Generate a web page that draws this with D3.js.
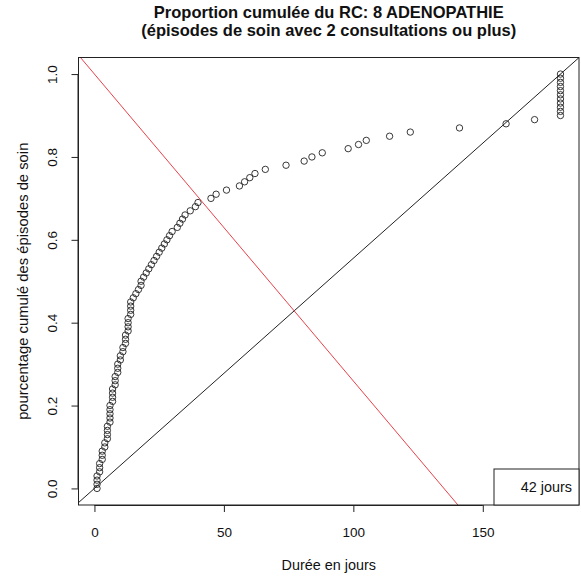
<!DOCTYPE html>
<html>
<head>
<meta charset="utf-8">
<script src="https://cdn.jsdelivr.net/npm/d3@7"></script>
<style>
  body { margin: 0; background: white; }
  svg text { font-family: 'Liberation Sans', Arial, sans-serif; fill: #111; }
</style>
</head>
<body>
<div id="chart_container"></div>
<script>

// durations (days), sorted, one per episode
var durees = [
  1, 1, 1, 1, 2, 2, 2, 3, 3, 3,
  4, 4, 5, 5, 5, 5, 6, 6, 6, 6,
  6, 7, 7, 7, 7, 8, 8, 8, 9, 9,
  9, 10, 10, 11, 11, 12, 12, 12, 13, 13,
  13, 13, 14, 14, 14, 14, 15, 16, 17, 18,
  18, 19, 20, 21, 22, 23, 24, 25, 26, 27,
  28, 29, 30, 32, 33, 34, 35, 37, 39, 40,
  45, 47, 51, 56, 58, 60, 62, 66, 74, 81,
  84, 88, 98, 102, 105, 114, 122, 141, 159, 170,
  180, 180, 180, 180, 180, 180, 180, 180, 180, 180,
  180
]
// cumulative proportion, one per episode
var proportions = [
  0.00, 0.01, 0.02, 0.03, 0.04, 0.05, 0.06, 0.07, 0.08, 0.09,
  0.10, 0.11, 0.12, 0.13, 0.14, 0.15, 0.16, 0.17, 0.18, 0.19,
  0.20, 0.21, 0.22, 0.23, 0.24, 0.25, 0.26, 0.27, 0.28, 0.29,
  0.30, 0.31, 0.32, 0.33, 0.34, 0.35, 0.36, 0.37, 0.38, 0.39,
  0.40, 0.41, 0.42, 0.43, 0.44, 0.45, 0.46, 0.47, 0.48, 0.49,
  0.50, 0.51, 0.52, 0.53, 0.54, 0.55, 0.56, 0.57, 0.58, 0.59,
  0.60, 0.61, 0.62, 0.63, 0.64, 0.65, 0.66, 0.67, 0.68, 0.69,
  0.70, 0.71, 0.72, 0.73, 0.74, 0.75, 0.76, 0.77, 0.78, 0.79,
  0.80, 0.81, 0.82, 0.83, 0.84, 0.85, 0.86, 0.87, 0.88, 0.89,
  0.90, 0.91, 0.92, 0.93, 0.94, 0.95, 0.96, 0.97, 0.98, 0.99,
  1.00
]

// reference lines y = a + b*x
var ligne_intercepts = [0, 1]
var ligne_pentes = [1 / 180, -1 / 135]
var ligne_couleurs = ['#222', '#e8424b']

var x_ticks = [0, 50, 100, 150]
var y_ticks = [0, 0.2, 0.4, 0.6, 0.8, 1.0]

var titre = ['Proportion cumulée du RC: 8 ADENOPATHIE', '(épisodes de soin avec 2 consultations ou plus)']
var x_label = 'Durée en jours'
var y_label = 'pourcentage cumulé des épisodes de soin'
var legende = '42 jours'

var width = 581
var height = 585
var plot = { left: 78.5, right: 579, top: 57.5, bottom: 505 }

var svg = d3.select('div#chart_container').append('svg')
  .attr('width', width)
  .attr('height', height)

// R style 4% padding on both axes
var x_min = d3.min(durees), x_max = d3.max(durees)
var y_min = d3.min(proportions), y_max = d3.max(proportions)
var x_pad = (x_max - x_min) * 0.04
var y_pad = (y_max - y_min) * 0.04

var x = d3.scaleLinear()
  .domain([x_min - x_pad, x_max + x_pad])
  .range([plot.left, plot.right])

var y = d3.scaleLinear()
  .domain([y_min - y_pad, y_max + y_pad])
  .range([plot.bottom, plot.top])

svg.append('clipPath').attr('id', 'plot_clip')
  .append('rect')
  .attr('x', plot.left)
  .attr('y', plot.top)
  .attr('width', plot.right - plot.left)
  .attr('height', plot.bottom - plot.top)

// title
titre.forEach(function(t, i) {
  svg.append('text')
    .attr('x', (plot.left + plot.right) / 2)
    .attr('y', 18 + i * 17.5)
    .attr('text-anchor', 'middle')
    .style('font-size', '16.5px')
    .style('font-weight', 'bold')
    .text(t)
})

// points
svg.append('g').selectAll('circle')
  .data(durees)
  .enter().append('circle')
  .attr('cx', function(d) { return x(d) })
  .attr('cy', function(d, i) { return y(proportions[i]) })
  .attr('r', 3.2)
  .attr('fill', 'none')
  .attr('stroke', '#222')
  .attr('stroke-width', 0.9)

// ablines
var g_lines = svg.append('g').attr('clip-path', 'url(#plot_clip)')
ligne_intercepts.forEach(function(a, i) {
  var b = ligne_pentes[i]
  var x0 = x.domain()[0], x1 = x.domain()[1]
  g_lines.append('line')
    .attr('x1', x(x0))
    .attr('y1', y(a + b * x0))
    .attr('x2', x(x1))
    .attr('y2', y(a + b * x1))
    .attr('stroke', ligne_couleurs[i])
    .attr('stroke-width', 1)
})

// x axis
var x_axis = svg.append('g')
  .attr('transform', 'translate(0,' + plot.bottom + ')')
  .call(d3.axisBottom(x).tickValues(x_ticks).tickSize(7).tickPadding(15).tickFormat(d3.format('d')))
x_axis.select('.domain').attr('d', 'M' + x(x_ticks[0]) + ',0.5H' + x(x_ticks[x_ticks.length - 1]))
x_axis.selectAll('text').style('font-size', '13.5px').attr('fill', '#111')
x_axis.selectAll('line, path').attr('stroke', '#222')

// y axis
var y_axis = svg.append('g')
  .attr('transform', 'translate(' + plot.left + ',0)')
  .call(d3.axisLeft(y).tickValues(y_ticks).tickSize(7).tickFormat(d3.format('.1f')))
y_axis.select('.domain').attr('d', 'M-0.5,' + y(y_ticks[0]) + 'V' + y(y_ticks[y_ticks.length - 1]))
y_axis.selectAll('line, path').attr('stroke', '#222')
y_axis.selectAll('text')
  .style('font-size', '13.5px')
  .attr('fill', '#111')
  .attr('x', null)
  .attr('dy', null)
  .attr('text-anchor', 'middle')
  .attr('transform', 'translate(-22,0) rotate(-90)')

// box
svg.append('rect')
  .attr('x', plot.left)
  .attr('y', plot.top)
  .attr('width', plot.right - plot.left)
  .attr('height', plot.bottom - plot.top)
  .attr('fill', 'none')
  .attr('stroke', '#222')
  .attr('stroke-width', 1)

// axis labels
svg.append('text')
  .attr('x', (plot.left + plot.right) / 2)
  .attr('y', 570)
  .attr('text-anchor', 'middle')
  .style('font-size', '14.4px')
  .text(x_label)

svg.append('text')
  .attr('transform', 'translate(28,' + ((plot.top + plot.bottom) / 2) + ') rotate(-90)')
  .attr('text-anchor', 'middle')
  .style('font-size', '14.8px')
  .text(y_label)

// legend, bottom right
var leg_w = 85, leg_h = 36
svg.append('rect')
  .attr('x', plot.right - leg_w)
  .attr('y', plot.bottom - leg_h)
  .attr('width', leg_w)
  .attr('height', leg_h)
  .attr('fill', 'white')
  .attr('stroke', '#222')
  .attr('stroke-width', 1)

svg.append('text')
  .attr('x', plot.right - 7)
  .attr('y', plot.bottom - leg_h / 2 + 5)
  .attr('text-anchor', 'end')
  .style('font-size', '14.4px')
  .text(legende)

</script>
</body>
</html>
